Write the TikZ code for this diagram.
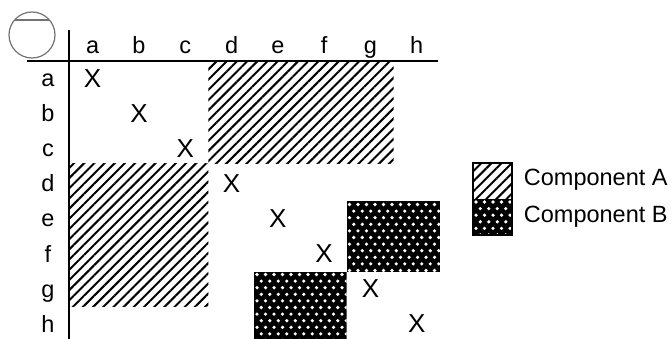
\documentclass[tikz,border=0pt]{standalone}
\usepackage{fontspec}
\setmainfont{Liberation Sans}
\usetikzlibrary{patterns.meta}
\tikzset{
  every picture/.style={line width=1.8pt},
  lbl/.style={font=\fontsize{23.5}{27}\selectfont, anchor=base, inner sep=0pt},
  xmark/.style={font=\fontsize{26}{30}\selectfont, inner sep=0pt},
  legend/.style={font=\fontsize{23.5}{27}\selectfont, anchor=west, inner sep=0pt},
  hatch/.style={pattern={Lines[angle=45, distance=7.2pt, line width=2pt]}},
}
% black block with white dots
\newcommand{\dotblock}[4]{%
  \begin{scope}
    \clip (#1,#2) rectangle (#3,#4);
    \fill (#1,#2) rectangle (#3,#4);
    \foreach \j in {0,...,11} {
      \foreach \i in {0,...,13} {
        \fill[white] ({#1+3+8.5*\i+4.25*mod(\j,2)}, {#2+3+6.6*\j}) circle[radius=1.8pt];
      }
    }
  \end{scope}}

\begin{document}
\begin{tikzpicture}[x=1pt, y=-1pt]
  \useasboundingbox (0,0) rectangle (672,339);

  % components
  \fill[hatch] (208.4,61.5) rectangle (393.6,164);
  \fill[hatch] (69.5,164) rectangle (208.4,306.5);
  \dotblock{346.5}{201.5}{439.9}{271.5}
  \dotblock{254}{271.5}{346.5}{339}

  % axes
  \draw (27,61) -- (438,61);
  \draw (69,30) -- (69,339);
  \draw[black!55, line width=1.2pt] (32,35) circle[radius=23pt];
  \draw[black!55, line width=1.2pt] (14.6,20) -- (49.4,20);

  % labels and diagonal
  \foreach \n [count=\k] in {a,b,c,d,e,f,g,h} {
    \node[lbl] (col-\n) at ({69.5+46.3*(\k-0.5)}, 54) {\n};
    \node[lbl] (row-\n) at (48, {61.5+35*(\k-0.5)+8}) {\n};
    \node[xmark] (x-\n) at ({69.5+46.3*(\k-0.5)}, {61.5+35*(\k-0.5)}) {X};
  }

  % legend
  \fill[hatch] (473,163) rectangle (512,199);
  \dotblock{473}{199}{512}{235}
  \draw[line width=1.2pt] (473,163) rectangle (512,235);
  \node[legend] (leg-a) at (523,180) {Component A};
  \node[legend] (leg-b) at (523,217) {Component B};
\end{tikzpicture}
\end{document}
